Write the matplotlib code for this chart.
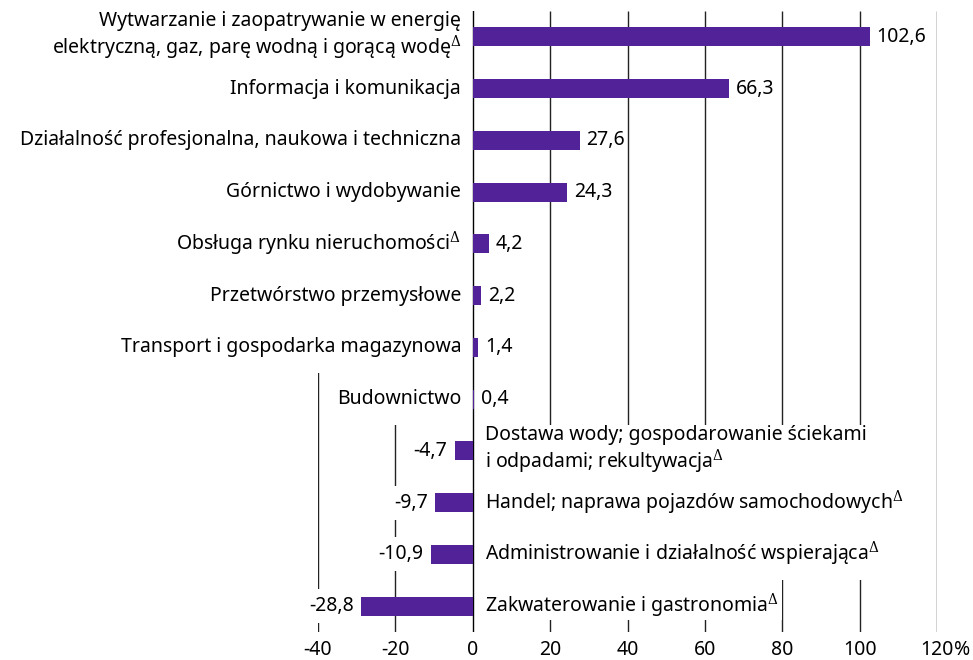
import numpy as np
import matplotlib
matplotlib.use("Agg")
import matplotlib.pyplot as plt
from matplotlib.patches import Rectangle

plt.rcParams['font.family'] = ['Noto Sans', 'DejaVu Sans']
plt.rcParams['mathtext.fontset'] = 'dejavuserif'

D = r'$^{\Delta}$'
kategorie = [
    'Wytwarzanie i zaopatrywanie w energię\nelektryczną, gaz, parę wodną i gorącą wodę' + D,
    'Informacja i komunikacja',
    'Działalność profesjonalna, naukowa i techniczna',
    'Górnictwo i wydobywanie',
    'Obsługa rynku nieruchomości' + D,
    'Przetwórstwo przemysłowe',
    'Transport i gospodarka magazynowa',
    'Budownictwo',
    'Dostawa wody; gospodarowanie ściekami\ni odpadami; rekultywacja' + D,
    'Handel; naprawa pojazdów samochodowych' + D,
    'Administrowanie i działalność wspierająca' + D,
    'Zakwaterowanie i gastronomia' + D,
]
wartosci = [102.6, 66.3, 27.6, 24.3, 4.2, 2.2, 1.4, 0.4, -4.7, -9.7, -10.9, -28.8]
ticks = [-40, -20, 0, 20, 40, 60, 80, 100, 120]

kolor = '#522398'
fs = 14

fig = plt.figure(figsize=(9.73, 6.6), dpi=100)
ax = fig.add_axes([318/973, 1 - 632/660, 619/973, 621/660])

n = len(wartosci)
y = np.arange(n)
ax.barh(y, wartosci, height=0.37, color=kolor, zorder=2)
ax.axvline(0, color='black', lw=1, zorder=1.9)
ax.vlines([t for t in ticks if t != 0], -0.5, n - 0.5,
          color='#222222', lw=1, zorder=1)

ax.set_xlim(-40, 120)
ax.set_ylim(n - 0.5, -0.5)
for s in ax.spines.values():
    s.set_visible(False)
ax.set_yticks([])
ax.set_xticks(ticks, [str(t) for t in ticks])
ax.tick_params(axis='x', length=0, labelsize=fs, pad=6)

opisy = []
for i, (k, v) in enumerate(zip(kategorie, wartosci)):
    txt = f'{v:.1f}'.replace('.', ',')
    if v >= 0:
        t = ax.text(-3.0, i, k, ha='right', va='center', fontsize=fs,
                    multialignment='right', zorder=3, linespacing=1.15)
        ax.annotate(txt, (v, i), xytext=(5, 0), textcoords='offset points',
                    ha='left', va='center', fontsize=fs, zorder=3)
    else:
        t = ax.text(3.2, i, k, ha='left', va='center', fontsize=fs,
                    multialignment='left', zorder=3, linespacing=1.15)
        ax.annotate(txt, (v, i), xytext=(-5, 0), textcoords='offset points',
                    ha='right', va='center', fontsize=fs, zorder=3,
                    bbox=dict(facecolor='white', edgecolor='none', pad=5))
    opisy.append((t, i))

# białe tło pod opisami kategorii (ukrywa linie siatki),
# na dole zostaje krótki odcinek linii jako kreska podziałki
fig.canvas.draw()
r = fig.canvas.get_renderer()
inv = ax.transData.inverted()
dol = n - 0.5 - 0.23
for t, i in opisy:
    bb = t.get_window_extent(r)
    x0 = inv.transform((bb.x0 - 3, 0))[0]
    x1 = inv.transform((bb.x1 + 3, 0))[0]
    y0 = i - 0.5
    y1 = min(i + 0.5, dol)
    ax.add_patch(Rectangle((x0, y0), x1 - x0, y1 - y0, facecolor='white',
                           edgecolor='none', zorder=1.5, clip_on=False))

# znak % po ostatniej etykiecie osi
last = ax.get_xticklabels()[-1]
bb = last.get_window_extent(r)
fig.text(bb.x1 / fig.bbox.width, bb.y0 / fig.bbox.height, '%',
         fontsize=fs, ha='left', va='bottom')

fig.savefig('out.png', dpi=100)
